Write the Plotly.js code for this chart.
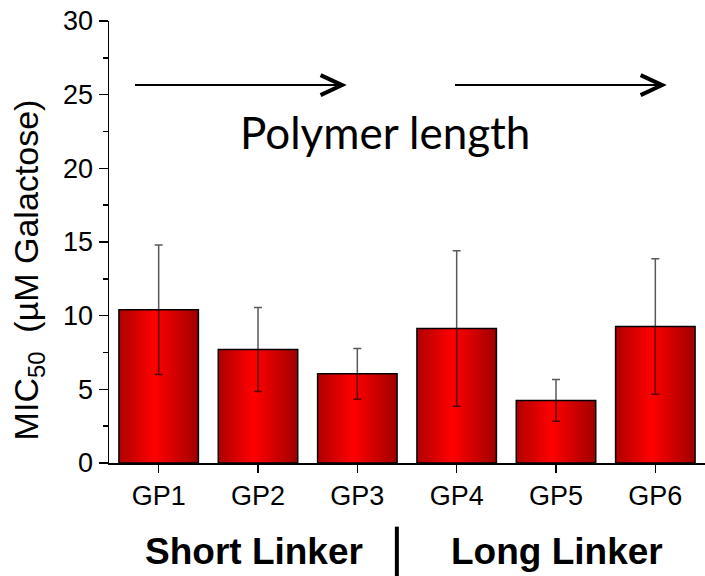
<!DOCTYPE html>
<html>
<head>
<meta charset="utf-8">
<script src="https://cdn.plot.ly/plotly-3.0.1.min.js"></script>
<style>html,body{margin:0;padding:0;background:#fff;}</style>
</head>
<body>
<div id="chart" style="width:705px;height:576px;"></div>
<script>
// Data
const categories = ["GP1", "GP2", "GP3", "GP4", "GP5", "GP6"];
const mic50 = [10.4, 7.7, 6.05, 9.13, 4.25, 9.26];
const errors = [4.4, 2.85, 1.72, 5.27, 1.42, 4.6];
const groupLabels = ["Short Linker", "Long Linker"];
const arrowLabel = "Polymer length";
const yTitle = "MIC<sub>50</sub>\u00a0\u00a0(\u00b5M Galactose)";

const trace = {
  type: "bar",
  x: categories,
  y: mic50,
  width: 0.8,
  marker: { color: "#ee0000", line: { color: "#000", width: 1.5 } },
  error_y: { type: "data", array: errors, visible: true, color: "rgba(0,0,0,0.65)", thickness: 1.5, width: 4 },
  hoverinfo: "none"
};

const arrowY = 25.65;
const headDx = 0.036, headDy = 0.68;
function chevron(tip) {
  return "M" + (tip - headDx) + "," + (arrowY + headDy) + " L" + tip + "," + arrowY + " L" + (tip - headDx) + "," + (arrowY - headDy);
}
const arrows = [[0.0436, 0.391], [0.5805, 0.928]];
const shapes = [];
arrows.forEach(a => {
  shapes.push({ type: "line", xref: "paper", yref: "y", x0: a[0], x1: a[1] - 0.004, y0: arrowY, y1: arrowY, line: { color: "#000", width: 2 } });
  shapes.push({ type: "path", xref: "paper", yref: "y", path: chevron(a[1]), line: { color: "#000", width: 4 } });
});
shapes.push({ type: "line", xref: "paper", yref: "paper", x0: 0.483, x1: 0.483, y0: -0.144, y1: -0.26, line: { color: "#000", width: 4 } });

const layout = {
  width: 705, height: 576,
  margin: { l: 109, r: 0, t: 21, b: 113 },
  paper_bgcolor: "#fff", plot_bgcolor: "#fff",
  showlegend: false,
  font: { family: "Liberation Sans, Arial, sans-serif", color: "#000" },
  xaxis: {
    type: "category", range: [-0.5, 5.5],
    showline: true, linecolor: "#000", linewidth: 1.5,
    ticks: "outside", ticklen: 8, tickwidth: 1.5, tickcolor: "#000",
    tickfont: { size: 27, family: "Liberation Sans, Arial, sans-serif" },
    showgrid: false, zeroline: false
  },
  xaxis2: {
    overlaying: "x", anchor: "y", side: "bottom", range: [-0.5, 5.5],
    tick0: 0.5, dtick: 1, ticks: "outside", ticklen: 4, tickwidth: 1.5, tickcolor: "#000",
    showticklabels: false, showline: false, showgrid: false, zeroline: false
  },
  yaxis: {
    range: [0, 30], dtick: 5,
    showline: true, linecolor: "#000", linewidth: 1.5,
    ticks: "outside", ticklen: 9, tickwidth: 1.5, tickcolor: "#000",
    minor: { dtick: 2.5, ticks: "outside", ticklen: 5, tickwidth: 1.5, tickcolor: "#000", showgrid: false },
    tickfont: { size: 27, family: "Liberation Sans, Arial, sans-serif" },
    showgrid: false, zeroline: false
  },
  shapes: shapes,
  annotations: [
    { text: arrowLabel, xref: "paper", yref: "y", x: 0.463, y: 22.5, showarrow: false, xanchor: "center", yanchor: "middle",
      font: { family: "Lato, sans-serif", size: 44, color: "#000" } },
    { text: groupLabels[0], xref: "paper", yref: "paper", x: 0.243, y: -0.2, showarrow: false, xanchor: "center", yanchor: "middle",
      font: { family: "Liberation Sans, Arial, sans-serif", size: 37, color: "#000", weight: "bold" } },
    { text: groupLabels[1], xref: "paper", yref: "paper", x: 0.7525, y: -0.2, showarrow: false, xanchor: "center", yanchor: "middle",
      font: { family: "Liberation Sans, Arial, sans-serif", size: 37, color: "#000", weight: "bold" } },
    { text: yTitle, xref: "paper", yref: "paper", x: -0.135, y: 0.437, showarrow: false, textangle: -90, xanchor: "center", yanchor: "middle",
      font: { family: "Liberation Sans, Arial, sans-serif", size: 34, color: "#000" } }
  ]
};

Plotly.newPlot("chart", [trace], layout, { displayModeBar: false, staticPlot: true }).then(gd => {
  const svg = gd.querySelector("svg.main-svg");
  const ns = "http://www.w3.org/2000/svg";
  let defs = svg.querySelector("defs");
  if (!defs) { defs = document.createElementNS(ns, "defs"); svg.insertBefore(defs, svg.firstChild); }
  const grad = document.createElementNS(ns, "linearGradient");
  grad.setAttribute("id", "barGrad");
  grad.setAttribute("x1", "0"); grad.setAttribute("x2", "1");
  grad.setAttribute("y1", "0"); grad.setAttribute("y2", "0");
  [["0", "#b00000"], ["0.45", "#ff0000"], ["1", "#a00000"]].forEach(s => {
    const st = document.createElementNS(ns, "stop");
    st.setAttribute("offset", s[0]); st.setAttribute("stop-color", s[1]);
    grad.appendChild(st);
  });
  defs.appendChild(grad);
  gd.querySelectorAll(".trace.bars .point path").forEach(p => { p.style.fill = "url(#barGrad)"; });
});
</script>
</body>
</html>
